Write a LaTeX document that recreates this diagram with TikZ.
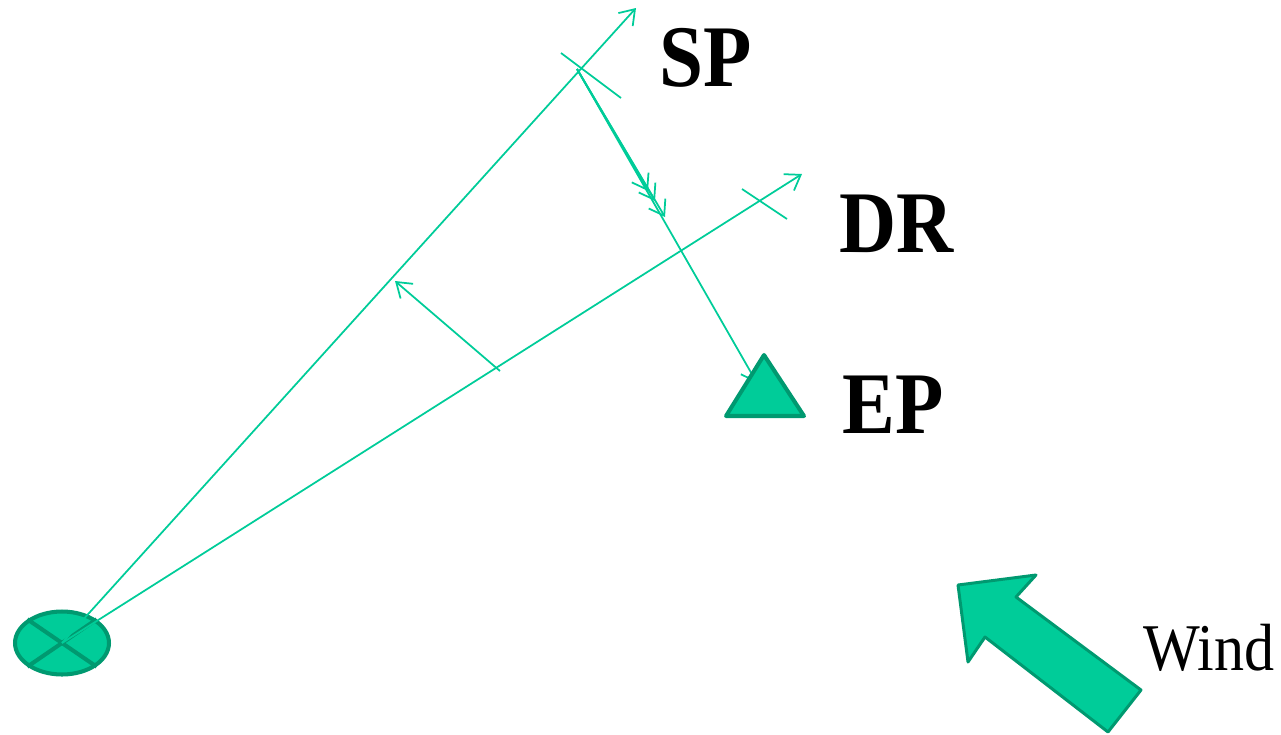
\documentclass[tikz,border=0pt]{standalone}
\usepackage{fontspec}
\newfontfamily\lblfont[FakeStretch=0.9]{Liberation Serif}
\usepackage{tikz}
\usetikzlibrary{arrows.meta,shapes.geometric}
\definecolor{mint}{HTML}{00CC99}
\definecolor{pine}{HTML}{009970}
\tikzset{
  ray/.style={
    draw=mint, line width=1pt
  },
  rayarrow/.style={
    ray, -{Straight Barb[length=8pt,width=11pt]}
  },
  solidshape/.style={
    fill=mint, draw=pine, line width=2.3pt, line join=round
  },
  tag/.style={
    font=\lblfont\fontsize{#1}{#1}\selectfont,
    inner sep=0pt, anchor=base west
  },
  tag/.default=50,
}

\begin{document}
\begin{tikzpicture}[x=0.02cm, y=-0.02cm]
  \useasboundingbox (0,0) rectangle (1281,734);

  % Source
  \node[ellipse, solidshape, minimum width=1.88cm, minimum height=1.26cm,
    inner sep=0pt] (src) at (62,643) {};
  \draw[pine, line width=2.3pt] (src.north west) -- (src.south east);
  \draw[pine, line width=2.3pt] (src.south west) -- (src.north east);

  % Rays and ticks
  \coordinate (sptip) at (636,8);
  \coordinate (drtip) at (802,174);
  \coordinate (spa) at (561,53);
  \coordinate (spb) at (621,98);
  \coordinate (dra) at (742,189);
  \coordinate (drb) at (787,219);
  \draw[rayarrow] (src.center) -- (sptip);
  \draw[rayarrow] (src.center) -- (drtip);
  \draw[ray] (spa) -- (spb);
  \draw[ray] (dra) -- (drb);

  % Offset between rays
  \coordinate (pfoot) at (500,371);
  \coordinate (phead) at (395,281);
  \draw[rayarrow] (pfoot) -- (phead);

  % Drift from SP to EP
  \coordinate (sp) at (577,69);
  \coordinate (ep) at (757,383);
  \draw[rayarrow] (sp) -- (ep);
  \foreach \x/\y in {648/191, 655/201, 665/217}
    \draw[rayarrow] (sp) -- (\x,\y);

  % End point
  \draw[solidshape] (764,355) -- (804,416) -- (726,416) -- cycle;

  % Wind
  \draw[solidshape, line width=1.7pt]
    (958,585) -- (1036,575) -- (1016,597) -- (1141,690)
    -- (1108,732) -- (985,637) -- (968,662) -- cycle;

  % Labels
  \node[tag, font=\lblfont\fontsize{50}{50}\bfseries\selectfont]
    (splbl) at (659,86) {SP};
  \node[tag, font=\lblfont\fontsize{50}{50}\bfseries\selectfont]
    (drlbl) at (839,252) {DR};
  \node[tag, font=\lblfont\fontsize{50}{50}\bfseries\selectfont]
    (eplbl) at (842,433) {EP};
  \node[tag=38] (windlbl) at (1143,670) {Wind};
\end{tikzpicture}
\end{document}
